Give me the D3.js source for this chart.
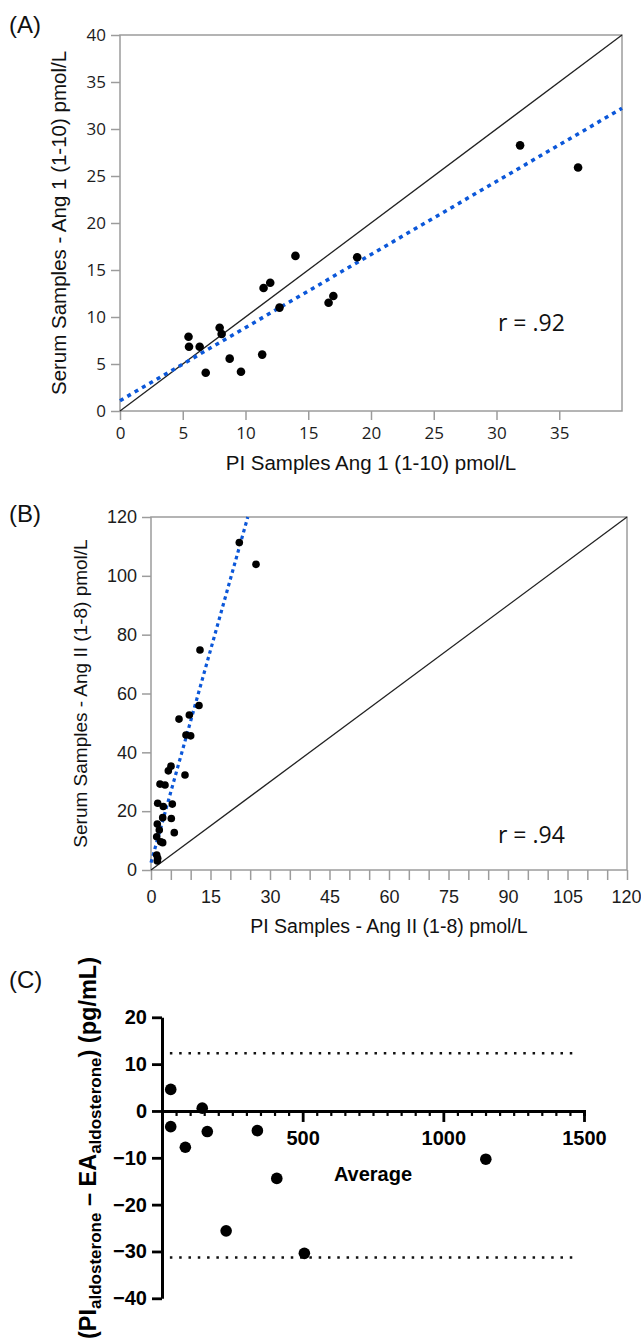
<!DOCTYPE html>
<html>
<head>
<meta charset="utf-8">
<script src="https://cdn.jsdelivr.net/npm/d3@7"></script>
<style>
body { margin: 0; background: #fff; }
svg { display: block; }
</style>
</head>
<body>
<svg id="fig" width="641" height="1342"></svg>
<script>
// (A) Ang 1 (1-10): PI vs serum
const A_PI = [5.46, 5.5, 6.35, 6.83, 7.94, 8.1, 8.74, 9.64, 11.33, 11.44, 11.97, 12.71, 13.98, 16.62, 17.0, 18.9, 31.88, 36.5];
const A_SERUM = [7.9, 6.84, 6.84, 4.07, 8.86, 8.19, 5.57, 4.18, 6.0, 13.09, 13.65, 11.0, 16.5, 11.52, 12.23, 16.35, 28.26, 25.9];
const A_FIT = [[0, 1.1], [40, 32.2]];
const A_IDENT = [[0, 0], [40, 40]];
const A_XTICKS = [0, 5, 10, 15, 20, 25, 30, 35];
const A_YTICKS = [0, 5, 10, 15, 20, 25, 30, 35, 40];

// (B) Ang II (1-8): PI vs serum
const B_PI = [22.26, 26.47, 12.35, 12.1, 7.06, 9.66, 8.82, 10.0, 8.57, 4.37, 5.04, 2.27, 3.53, 1.69, 3.1, 5.37, 2.95, 5.12, 5.87, 1.59, 2.09, 1.44, 2.44, 2.95, 1.44, 1.69, 1.59];
const B_SERUM = [111.3, 103.9, 74.8, 55.9, 51.3, 52.7, 45.9, 45.6, 32.3, 33.7, 35.3, 29.2, 28.9, 22.7, 21.6, 22.4, 17.8, 17.5, 12.7, 15.6, 13.6, 11.3, 9.6, 9.3, 5.1, 4.0, 3.1];
const B_FIT = [[0, 2.5], [24.4, 120]];
const B_IDENT = [[0, 0], [120, 120]];
const B_XTICKS = d3.range(0, 121, 5);
const B_YTICKS = [0, 20, 40, 60, 80, 100, 120];

// (C) aldosterone Bland-Altman
const C_AVG = [31, 143, 31, 161, 339, 83, 408, 228, 506, 1151];
const C_DIFF = [4.6, 0.6, -3.35, -4.4, -4.2, -7.75, -14.4, -25.6, -30.4, -10.3];
const C_LIMITS = [12.3, -31.3];
const C_LIMIT_SPAN = [28, 1474];
const C_XMAJOR = [500, 1000, 1500];
const C_XMINOR = d3.range(50, 1500, 50).filter(d => d % 500 !== 0);
const C_YTICKS = [-40, -30, -20, -10, 0, 10, 20];

const GRAY = '#9c9c9c';
const BLUE = '#0b57d9';
const SEGOE = "'Open Sans', 'Noto Sans', sans-serif";
const ARIAL = "'Liberation Sans', Arial, sans-serif";

const $svg = d3.select('#fig');

function styleAxis($g, { font, size, weight = 'normal', color = GRAY, width = 1.5, ink = '#1c1c1c' }) {
	$g.attr('font-family', font).attr('font-size', size).attr('font-weight', weight);
	$g.select('.domain').remove();
	$g.selectAll('.tick line').attr('stroke', color).attr('stroke-width', width);
	$g.selectAll('.tick text').attr('fill', ink);
}

function label(x, y, txt) {
	$svg.append('text')
		.attr('x', x)
		.attr('y', y)
		.attr('font-family', ARIAL)
		.attr('font-size', 24)
		.attr('fill', '#111')
		.text(txt);
}

// ---------- panel A ----------
const xA = d3.scaleLinear().domain([0, 40]).range([120, 622]);
const yA = d3.scaleLinear().domain([0, 40]).range([411, 35]);
const lineA = d3.line().x(d => xA(d[0])).y(d => yA(d[1]));

label(9, 33, '(A)');

$svg.append('rect')
	.attr('x', xA(0)).attr('y', yA(40))
	.attr('width', xA(40) - xA(0)).attr('height', yA(0) - yA(40))
	.attr('fill', 'none').attr('stroke', GRAY).attr('stroke-width', 1.5);

const $axA = $svg.append('g')
	.attr('transform', `translate(0,${yA(0)})`)
	.call(d3.axisBottom(xA).tickValues(A_XTICKS).tickSize(9).tickPadding(7));
styleAxis($axA, { font: SEGOE, size: 17 });
const $ayA = $svg.append('g')
	.attr('transform', `translate(${xA(0)},0)`)
	.call(d3.axisLeft(yA).tickValues(A_YTICKS).tickSize(9).tickPadding(5));
styleAxis($ayA, { font: SEGOE, size: 17 });

$svg.append('path').datum(A_IDENT).attr('d', lineA)
	.attr('fill', 'none').attr('stroke', '#222').attr('stroke-width', 1.3);
$svg.append('path').datum(A_FIT).attr('d', lineA)
	.attr('fill', 'none').attr('stroke', BLUE).attr('stroke-width', 3.5)
	.attr('stroke-dasharray', '4,4.5');

$svg.append('g').selectAll('circle')
	.data(d3.zip(A_PI, A_SERUM))
	.join('circle')
	.attr('cx', d => xA(d[0])).attr('cy', d => yA(d[1])).attr('r', 4.3)
	.attr('fill', '#000');

$svg.append('text')
	.attr('x', (xA(0) + xA(40)) / 2).attr('y', 470)
	.attr('text-anchor', 'middle')
	.attr('font-family', ARIAL).attr('font-size', 20.5).attr('fill', '#111')
	.text('PI Samples Ang 1 (1-10) pmol/L');
$svg.append('text')
	.attr('transform', `translate(66,${(yA(0) + yA(40)) / 2}) rotate(-90)`)
	.attr('text-anchor', 'middle')
	.attr('font-family', ARIAL).attr('font-size', 20.5).attr('fill', '#111')
	.text('Serum Samples - Ang 1 (1-10) pmol/L');
$svg.append('text')
	.attr('x', 498).attr('y', 331)
	.attr('font-family', SEGOE).attr('font-size', 23).attr('fill', '#111')
	.text('r = .92');

// ---------- panel B ----------
const xB = d3.scaleLinear().domain([0, 120]).range([151, 627]);
const yB = d3.scaleLinear().domain([0, 120]).range([870, 517]);
const lineB = d3.line().x(d => xB(d[0])).y(d => yB(d[1]));

label(9, 522, '(B)');

$svg.append('rect')
	.attr('x', xB(0)).attr('y', yB(120))
	.attr('width', xB(120) - xB(0)).attr('height', yB(0) - yB(120))
	.attr('fill', 'none').attr('stroke', GRAY).attr('stroke-width', 1.5);

const $axB = $svg.append('g')
	.attr('transform', `translate(0,${yB(0)})`)
	.call(d3.axisBottom(xB).tickValues(B_XTICKS).tickSize(10).tickPadding(10)
		.tickFormat(d => (d % 15 === 0 ? d : '')));
styleAxis($axB, { font: ARIAL, size: 18 });
// last label sits against the right edge of the figure
$axB.selectAll('.tick text').filter(d => d === 120).attr('text-anchor', 'end').attr('x', 14);
const $ayB = $svg.append('g')
	.attr('transform', `translate(${xB(0)},0)`)
	.call(d3.axisLeft(yB).tickValues(B_YTICKS).tickSize(9).tickPadding(5));
styleAxis($ayB, { font: ARIAL, size: 18 });

$svg.append('path').datum(B_IDENT).attr('d', lineB)
	.attr('fill', 'none').attr('stroke', '#222').attr('stroke-width', 1.3);
$svg.append('path').datum(B_FIT).attr('d', lineB)
	.attr('fill', 'none').attr('stroke', BLUE).attr('stroke-width', 3.2)
	.attr('stroke-dasharray', '3.5,3.5');

$svg.append('g').selectAll('circle')
	.data(d3.zip(B_PI, B_SERUM))
	.join('circle')
	.attr('cx', d => xB(d[0])).attr('cy', d => yB(d[1])).attr('r', 3.8)
	.attr('fill', '#000');

$svg.append('text')
	.attr('x', (xB(0) + xB(120)) / 2).attr('y', 933)
	.attr('text-anchor', 'middle')
	.attr('font-family', ARIAL).attr('font-size', 19.5).attr('fill', '#111')
	.text('PI Samples - Ang II (1-8) pmol/L');
$svg.append('text')
	.attr('transform', `translate(87,${(yB(0) + yB(120)) / 2}) rotate(-90)`)
	.attr('text-anchor', 'middle')
	.attr('font-family', ARIAL).attr('font-size', 19).attr('fill', '#111')
	.text('Serum Samples - Ang II (1-8) pmol/L');
$svg.append('text')
	.attr('x', 498).attr('y', 843)
	.attr('font-family', SEGOE).attr('font-size', 23).attr('fill', '#111')
	.text('r = .94');

// ---------- panel C ----------
const xC = d3.scaleLinear().domain([0, 1500]).range([162, 584]);
const yC = d3.scaleLinear().domain([-40, 20]).range([1298.3, 1017.3]);

label(9, 988, '(C)');

$svg.append('g').selectAll('line')
	.data(C_LIMITS)
	.join('line')
	.attr('x1', xC(C_LIMIT_SPAN[0])).attr('x2', xC(C_LIMIT_SPAN[1]))
	.attr('y1', d => yC(d)).attr('y2', d => yC(d))
	.attr('stroke', '#111').attr('stroke-width', 2.5)
	.attr('stroke-dasharray', '2.5,6.8');

const $axCminor = $svg.append('g')
	.attr('transform', `translate(0,${yC(0)})`)
	.call(d3.axisBottom(xC).tickValues(C_XMINOR).tickSize(5).tickFormat(''));
$axCminor.select('.domain').attr('stroke', '#000').attr('stroke-width', 3);
$axCminor.selectAll('.tick line').attr('stroke', '#000').attr('stroke-width', 2.2);

const $axC = $svg.append('g')
	.attr('transform', `translate(0,${yC(0)})`)
	.call(d3.axisBottom(xC).tickValues(C_XMAJOR).tickSize(11).tickPadding(9)
		.tickSizeOuter(0).tickFormat(d3.format('d')));
styleAxis($axC, { font: ARIAL, size: 20, weight: 'bold', color: '#000', width: 2.8, ink: '#000' });

const $ayC = $svg.append('g')
	.attr('transform', `translate(${xC(0)},0)`)
	.call(d3.axisLeft(yC).tickValues(C_YTICKS).tickSize(10).tickPadding(5).tickSizeOuter(0));
$ayC.attr('font-family', ARIAL).attr('font-size', 20).attr('font-weight', 'bold');
$ayC.select('.domain').attr('stroke', '#000').attr('stroke-width', 3);
$ayC.selectAll('.tick line').attr('stroke', '#000').attr('stroke-width', 2.8);
$ayC.selectAll('.tick text').attr('fill', '#000');

$svg.append('g').selectAll('circle')
	.data(d3.zip(C_AVG, C_DIFF))
	.join('circle')
	.attr('cx', d => xC(d[0])).attr('cy', d => yC(d[1])).attr('r', 5.8)
	.attr('fill', '#000');

$svg.append('text')
	.attr('x', 373).attr('y', 1181)
	.attr('text-anchor', 'middle')
	.attr('font-family', ARIAL).attr('font-size', 20).attr('font-weight', 'bold')
	.attr('fill', '#000')
	.text('Average');

const $yTitleC = $svg.append('text')
	.attr('transform', 'translate(96,957) rotate(-90)')
	.attr('text-anchor', 'end')
	.attr('font-family', ARIAL).attr('font-size', 23.5).attr('font-weight', 'bold')
	.attr('fill', '#000');
$yTitleC.append('tspan').text('(PI');
$yTitleC.append('tspan').attr('font-size', 17).attr('dy', 4.5).text('aldosterone');
$yTitleC.append('tspan').attr('dy', -4.5).text(' \u2013 EA');
$yTitleC.append('tspan').attr('font-size', 17).attr('dy', 4.5).text('aldosterone');
$yTitleC.append('tspan').attr('dy', -4.5).text(') (pg/mL)');
</script>
</body>
</html>
